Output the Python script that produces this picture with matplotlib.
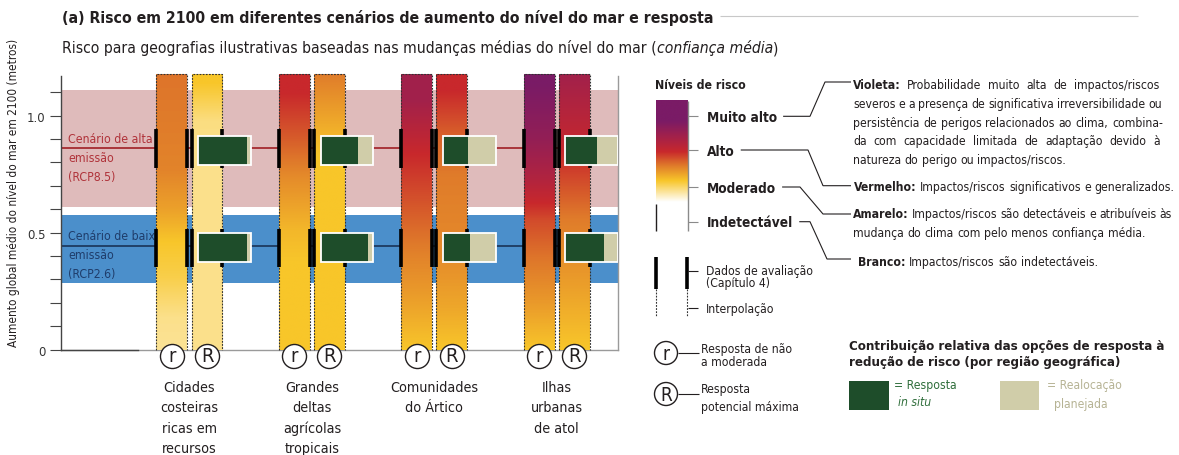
import os
import numpy as np
import matplotlib
matplotlib.use("Agg")
import matplotlib.pyplot as plt
from matplotlib import font_manager as fm
from matplotlib.colors import LinearSegmentedColormap
from matplotlib.patches import Rectangle, Circle

# ---------------- data ----------------
regions = ["Cidades\ncosteiras\nricas em\nrecursos",
           "Grandes\ndeltas\nagrícolas\ntropicais",
           "Comunidades\ndo Ártico",
           "Ilhas\nurbanas\nde atol"]
response_labels = ["r", "R"]

rcp85_range = (0.61, 1.11)
rcp85_median = 0.86
rcp26_range = (0.284, 0.577)
rcp26_median = 0.444
assess_high = (0.775, 0.941)
assess_low = (0.353, 0.516)
box_high = (0.79, 0.915)
box_low = (0.373, 0.499)
insitu_share_high = [0.92, 0.71, 0.48, 0.60]
insitu_share_low = [0.92, 0.90, 0.52, 0.74]

# risk level (0 indetectável, 1 moderado, 2 alto, 3 muito alto) vs sea level rise (m)
risk_r = [
    [(0.0, 0.5), (0.14, 0.55), (0.31, 0.85), (0.46, 1.0), (0.6, 1.25), (0.77, 1.45), (1.18, 1.55)],
    [(0.0, 1.0), (0.37, 1.0), (0.51, 1.1), (0.74, 1.4), (0.91, 1.7), (1.1, 2.0), (1.18, 2.0)],
    [(0.0, 1.0), (0.2, 1.25), (0.4, 1.45), (0.6, 1.7), (0.84, 2.0), (1.07, 2.5), (1.18, 2.5)],
    [(0.0, 1.0), (0.2, 1.3), (0.4, 1.55), (0.56, 1.8), (0.73, 2.3), (0.91, 2.7), (1.14, 3.0), (1.18, 3.0)],
]
risk_R = [
    [(0.0, 0.55), (0.86, 0.55), (0.98, 0.6), (1.14, 1.0), (1.18, 1.0)],
    [(0.0, 1.0), (0.83, 1.0), (0.94, 1.15), (1.18, 1.5)],
    [(0.0, 1.0), (0.17, 1.2), (0.4, 1.4), (0.74, 1.5), (0.91, 1.65), (1.11, 2.0), (1.18, 2.0)],
    [(0.0, 1.0), (0.31, 1.3), (0.56, 1.5), (0.76, 1.85), (0.91, 2.1), (1.18, 2.5)],
]
yticks = [0, 0.5, 1.0]
ytick_labels = ["0", "0.5", "1.0"]

# ---------------- fonts ----------------
_files = {os.path.basename(f.fname): f.fname for f in fm.fontManager.ttflist}


def _pick(cands):
    for c in cands:
        if c in _files:
            return _files[c]
    return None


REG = _pick(["LiberationSansNarrow-Regular.ttf", "DejaVuSansCondensed.ttf", "LiberationSans-Regular.ttf"])
BOLD = _pick(["LiberationSansNarrow-Bold.ttf", "DejaVuSansCondensed-Bold.ttf", "LiberationSans-Bold.ttf"])
ITAL = _pick(["LiberationSansNarrow-Italic.ttf", "DejaVuSansCondensed-Oblique.ttf", "LiberationSans-Italic.ttf"])


def FP(px, kind="r"):
    path = {"r": REG, "b": BOLD, "i": ITAL}[kind]
    size = px * 72 / 100
    if path:
        return fm.FontProperties(fname=path, size=size)
    return fm.FontProperties(family="DejaVu Sans", size=size,
                             weight="bold" if kind == "b" else "normal",
                             style="italic" if kind == "i" else "normal")


K = "#231f20"
W, H = 1179, 456
fig = plt.figure(figsize=(W / 100, H / 100), dpi=100)
rend = fig.canvas.get_renderer()


def tw(s, fp):
    return rend.get_text_width_height_descent(s, fp, ismath=False)[0]


def fit(s, kind, target, base=20.0):
    return base * target / tw(s, FP(base, kind))


# font sizes (px) fitted to reference text widths
px_title = fit("(a) Risco em 2100 em diferentes cenários de aumento do nível do mar e resposta", "b", 650)
px_sub = fit("Risco para geografias ilustrativas baseadas nas mudanças médias do nível do mar (confiança média)", "r", 713)
px_desc = 0.5 * (fit("natureza do perigo ou impactos/riscos.", "r", 216)
                 + fit("mudança do clima com pelo menos confiança média.", "r", 284))
px_lvl = fit("Indetectável", "b", 86)
px_nr = fit("Níveis de risco", "b", 91)
px_leg = fit("Dados de avaliação", "r", 107)
px_contrib = fit("Contribuição relativa das opções de resposta à", "b", 314)
px_ylab = fit("Aumento global médio do nível do mar em 2100 (metros)", "r", 305)
px_scen = fit("Cenário de alta", "r", 84)
px_cat = fit("Comunidades", "r", 87.7)

# main axes
ax = fig.add_axes([61 / W, (H - 350.7) / H, (618 - 61) / W, (350.7 - 75) / H], zorder=2)
ax.patch.set_visible(False)
pax = fig.add_axes([0, 0, 1, 1], zorder=5)
pax.patch.set_visible(False)
pax.axis("off")
pax.set_xlim(0, W)
pax.set_ylim(H, 0)

XL = (-1.0495, 3.5)
TOP = 1.178
cmap = LinearSegmentedColormap.from_list(
    "risk", [(0, "#ffffff"), (1 / 3, "#f8c62a"), (0.5, "#e07c2a"), (2 / 3, "#c8282c"),
             (5 / 6, "#a2214b"), (1, "#7a1b66")])

# bands and medians
ax.axhspan(*rcp85_range, color="#dfbbbb", zorder=1, lw=0)
ax.axhspan(*rcp26_range, color="#4b8fcb", zorder=1, lw=0)
ax.axhline(rcp85_median, color="#a52a30", lw=1.3, zorder=2)
ax.axhline(rcp26_median, color="#1d3a60", lw=1.3, zorder=2)

# scenario labels (below bars)
for k, s in enumerate(["Cenário de alta", "emissão", "(RCP8.5)"]):
    ax.text(68, 142.7 + 19 * k, s, transform=pax.transData, fontproperties=FP(px_scen),
            color="#b0333a", va="baseline", ha="left", zorder=2.8, clip_on=False)
for k, s in enumerate(["Cenário de baixa", "emissão", "(RCP2.6)"]):
    ax.text(68, 240 + 19 * k, s, transform=pax.transData, fontproperties=FP(px_scen),
            color="#1f3d6b", va="baseline", ha="left", zorder=2.8, clip_on=False)

off, bw = 0.1435, 0.252
ys = np.linspace(0, TOP, 400)
for i in range(len(regions)):
    for j, (xc, prof) in enumerate([(i - off, risk_r[i]), (i + off, risk_R[i])]):
        vals = np.interp(ys, [p[0] for p in prof], [p[1] for p in prof])
        x0, x1 = xc - bw / 2, xc + bw / 2
        ax.imshow(vals[:, None], extent=[x0, x1, 0, TOP], origin="lower", cmap=cmap,
                  vmin=0, vmax=3, aspect="auto", interpolation="bilinear", zorder=3)
        ax.plot([x0, x0, x1, x1], [0, TOP, TOP, 0], ls=(0, (1.6, 1.2)), lw=0.8,
                color="#333333", zorder=4, clip_on=False)
        for lo, hi in (assess_high, assess_low):
            ax.vlines([x0, x1], lo, hi, colors="k", lw=2.6, zorder=5)
        ax.scatter([xc], [-0.027], s=300, facecolor="white", edgecolor=K, lw=1.0,
                   zorder=8, clip_on=False)
        ax.annotate(response_labels[j], (xc, 0), xytext=(0, -11.2), textcoords="offset pixels",
                    ha="center", va="baseline", fontproperties=FP(20), color=K,
                    zorder=9, annotation_clip=False)
    # response boxes
    bx = i + 0.071
    bwid = 0.43
    for (lo, hi), share in ((box_high, insitu_share_high[i]), (box_low, insitu_share_low[i])):
        ax.add_patch(Rectangle((bx, lo), bwid, hi - lo, fc="#d0cda9", ec="none", zorder=6))
        ax.add_patch(Rectangle((bx, lo), bwid * share, hi - lo, fc="#1e4d2a", ec="none", zorder=6))
        ax.add_patch(Rectangle((bx, lo), bwid, hi - lo, fc="none", ec="white", lw=1.3, zorder=7))
    # region label lines
    for k, line in enumerate(regions[i].split("\n")):
        ax.annotate(line, (i, 0), xytext=(0, -(41 + 20.6 * k)), textcoords="offset pixels",
                    ha="center", va="baseline", fontproperties=FP(px_cat), color=K,
                    annotation_clip=False)

# axes frame
ax.set_xlim(*XL)
ax.set_ylim(0, TOP)
for s in ("top", "right", "bottom"):
    ax.spines[s].set_visible(False)
ax.spines["left"].set_bounds(0, 1.17)
ax.spines["left"].set_color("#444444")
ax.spines["left"].set_linewidth(1.0)
ax.set_xticks([])
ax.set_yticks(yticks)
ax.set_yticklabels(ytick_labels)
ax.set_yticks(np.arange(0.1, 1.15, 0.1), minor=True)
ax.tick_params(axis="y", which="both", direction="out", length=8, width=0.8, color="#444444",
               pad=3)
for t in ax.get_yticklabels():
    t.set_fontproperties(FP(13))
    t.set_color("#333333")
ax.plot([XL[0], XL[1]], [0, 0], color="#9a9a9a", lw=1.0, zorder=2.5, clip_on=False)
ax.plot([XL[0], -0.422], [0, 0], color="#444444", lw=1.0, zorder=2.6, clip_on=False)
ax.plot([XL[1], XL[1]], [0, 1.17], color="#9a9a9a", lw=1.0, zorder=2.5, clip_on=False)


def put(x, y, parts, ha="left", **kw):
    total = sum(tw(t, fp) for t, fp, c in parts)
    if ha == "center":
        x -= total / 2
    elif ha == "right":
        x -= total
    for t, fp, c in parts:
        pax.text(x, y, t, fontproperties=fp, color=c, va="baseline", ha="left", **kw)
        x += tw(t, fp)
    return x


def words(s, fp, c=K):
    return [(w, fp, c) for w in s.split(" ")]


def jline(x, y, wl, width=None):
    ws = [tw(t, fp) for t, fp, c in wl]
    fp0 = wl[-1][1]
    sp = tw("a a", fp0) - tw("aa", fp0)
    gap = (width - sum(ws)) / (len(wl) - 1) if width else sp
    for (t, fp, c), wd in zip(wl, ws):
        pax.text(x, y, t, fontproperties=fp, color=c, va="baseline", ha="left")
        x += wd + gap
    return x - gap


def pline(xs, ys, **kw):
    kw.setdefault("color", K)
    kw.setdefault("lw", 0.8)
    pax.plot(xs, ys, solid_capstyle="butt", **kw)


# title / subtitle
put(62, 23, [("(a) Risco em 2100 em diferentes cenários de aumento do nível do mar e resposta",
              FP(px_title, "b"), K)])
pline([720, 1138], [17, 17], color="#c8c8c8")
put(62, 53, [("Risco para geografias ilustrativas baseadas nas mudanças médias do nível do mar (",
              FP(px_sub), K), ("confiança média", FP(px_sub, "i"), K), (")", FP(px_sub), K)])

# y label
pax.text(14, 193, "Aumento global médio do nível do mar em 2100 (metros)", rotation=90,
         ha="center", va="center", fontproperties=FP(px_ylab), color=K)

# ---------------- legend: risk levels ----------------
put(655, 89.3, [("Níveis de risco", FP(px_nr, "b"), K)])
gy = np.linspace(101.7, 205, 300)
gv = np.interp(gy, [101.7, 122, 153, 167, 182, 203, 205], [3, 3, 2, 1.5, 1, 0, 0])
pax.imshow(gv[:, None], extent=[656, 687.7, 205, 101.7], origin="upper", cmap=cmap,
           vmin=0, vmax=3, aspect="auto", interpolation="bilinear")
pline([656, 656], [205, 231.7], lw=1.0)
pline([687.7, 687.7], [101.7, 231.7], color="#8a8a8a", lw=1.0)
levels = [("Muito alto", 117.3), ("Alto", 151), ("Moderado", 188), ("Indetectável", 222.7)]
desc_y = [83, 186.7, 215, 260]
bends = [(810, 825), (808, 823), (800, 823), (810, 827)]
for (name, yy), dy, (b0, b1) in zip(levels, desc_y, bends):
    pline([688, 698], [yy, yy], color="#8a8a8a")
    xe = put(707, yy + 4.8, [(name, FP(px_lvl, "b"), K)])
    pline([xe + 6, b0, b1, 851], [yy, yy, dy, dy])

fr, fb = FP(px_desc), FP(px_desc, "b")
jline(853, 89, [("Violeta:", fb, K)] + words("Probabilidade muito alta de impactos/riscos", fr), 1159 - 853)
jline(853, 108, words("severos e a presença de significativa irreversibilidade ou", fr), 1162 - 853)
jline(853, 127, words("persistência de perigos relacionados ao clima, combina-", fr), 1163 - 853)
jline(853, 145.5, words("da com capacidade limitada de adaptação devido à", fr), 1160 - 853)
jline(853, 164, words("natureza do perigo ou impactos/riscos.", fr))
jline(854, 190.7, [("Vermelho:", fb, K)] + words("Impactos/riscos significativos e generalizados.", fr))
jline(853, 218, [("Amarelo:", fb, K)] + words("Impactos/riscos são detectáveis e atribuíveis às", fr), 1172 - 853)
jline(853, 236.7, words("mudança do clima com pelo menos confiança média.", fr))
jline(858, 265.7, [("Branco:", fb, K)] + words("Impactos/riscos", fr) + [("são", fr, K), ("indetectáveis.", fr, K)])

# assessment legend
for xx in (656, 687):
    pline([xx, xx], [258, 290], color="k", lw=2.6)
    pline([xx, xx], [290, 318], ls=(0, (1.6, 1.2)), color="#333333")
pline([688, 698], [272, 272])
pline([688, 698], [309, 309])
fl = FP(px_leg)
put(706, 275, [("Dados de avaliação", fl, K)])
put(706, 287, [("(Capítulo 4)", fl, K)])
put(706, 313, [("Interpolação", fl, K)])

# response legend
for (cy, lb, lines, bl) in ((354, "r", ["Resposta de não", "a moderada"], [353.3, 366]),
                            (395, "R", ["Resposta", "potencial máxima"], [393.3, 411])):
    pax.add_patch(Circle((666, cy), 11.5, fc="white", ec=K, lw=1.0))
    put(666, cy + 6.5, [(lb, FP(19), K)], ha="center")
    pline([677.5, 699], [cy, cy])
    for s, b in zip(lines, bl):
        put(701, b, [(s, fl, K)])

# contribution legend
fcb = FP(px_contrib, "b")
put(849, 350, [("Contribuição relativa das opções de resposta à", fcb, K)])
put(849, 366, [("redução de risco (por região geográfica)", fcb, K)])
pax.add_patch(Rectangle((849, 382), 40, 29, fc="#1e4d2a", ec="none"))
pax.add_patch(Rectangle((1000, 382), 39, 29, fc="#d0cda9", ec="none"))
put(894, 389.3, [("= Resposta", fl, "#2f6e3b")])
put(898, 406, [("in situ", FP(px_leg, "i"), "#2f6e3b")])
put(1047, 389.3, [("= Realocação", fl, "#b6b394")])
put(1081, 408.3, [("planejada", fl, "#b6b394")], ha="center")

pax.set_xlim(0, W)
pax.set_ylim(H, 0)
fig.savefig("out.png", dpi=100)
